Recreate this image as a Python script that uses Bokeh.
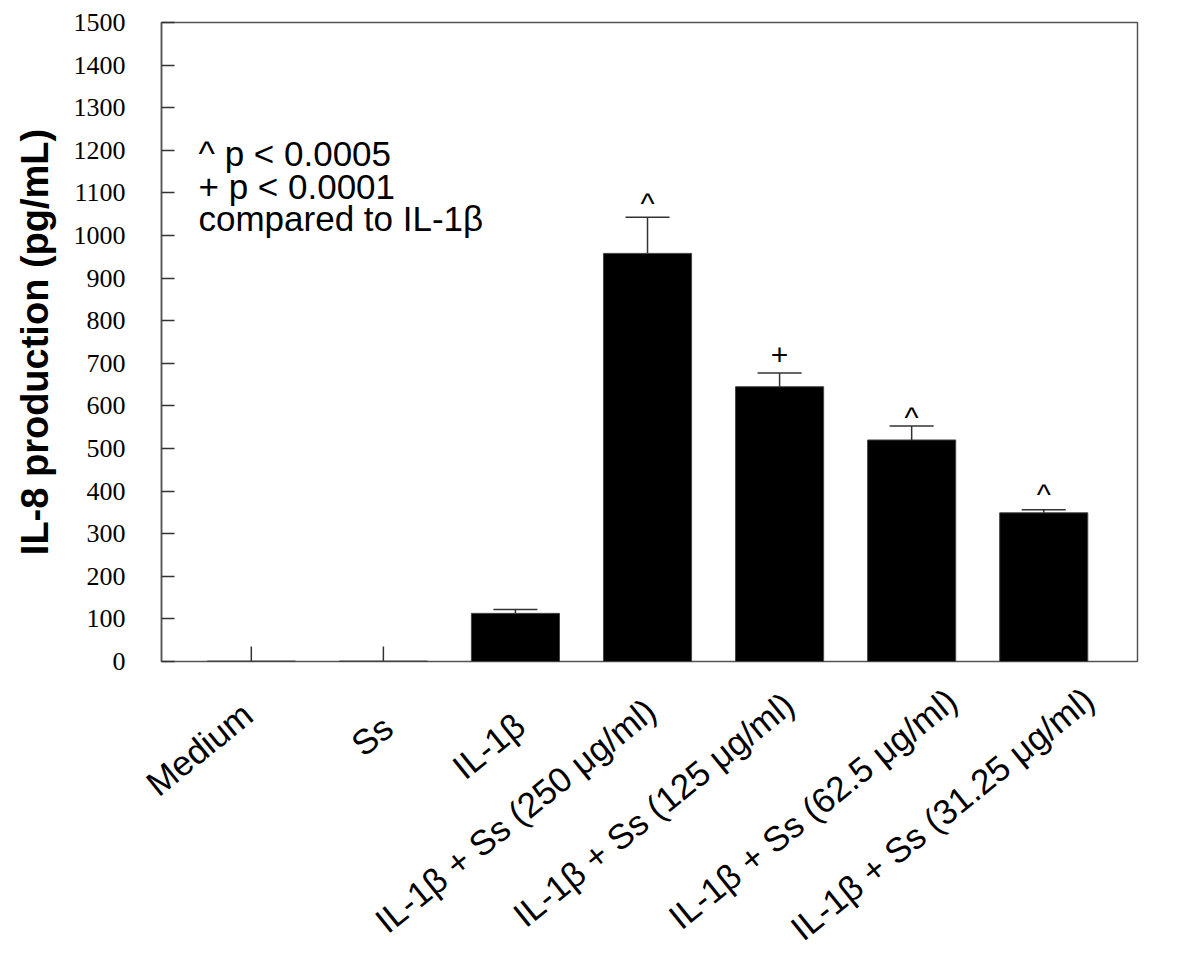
import numpy as np
from bokeh.plotting import figure
from bokeh.layouts import column
from bokeh.models import Range1d, FixedTicker, ColumnDataSource, Label
from bokeh.core.properties import value
from bokeh.embed import file_html
from bokeh.resources import INLINE

# ---------------- data ----------------
categories = ["Medium", "Ss", "IL-1β", "IL-1β + Ss (250 μg/ml)", "IL-1β + Ss (125 μg/ml)",
              "IL-1β + Ss (62.5 μg/ml)", "IL-1β + Ss (31.25 μg/ml)"]
means = [1, 1, 113, 958, 645, 520, 349]
errors = [34, 34, 9, 85, 32, 33, 7]
capped = [False, False, True, True, True, True, True]
sig_marks = ["", "", "", "^", "+", "^", "^"]
sig_y = [0, 0, 0, 1074, 720, 572, 392]
y_ticks = list(range(0, 1501, 100))
notes = ["^ p < 0.0005", "+ p < 0.0001", "compared to IL-1β"]
notes_y = [1193, 1116, 1041]

# ---------------- layout (pixels) ----------------
W = 1184
LEFT, RIGHT, TOP, BOTTOM = 161, 47, 22, 17
FRAME_H = 639
H_MAIN = TOP + FRAME_H + BOTTOM
H_LAB = 944 - H_MAIN
X0, X1 = -0.68, 6.71
PX_PER_X = (W - LEFT - RIGHT) / (X1 - X0)
label_dx = [-16, -8, -8, -9, -3, 28, 33]   # label anchor offsets from tick, px
label_dy = [33, 46, 44, 29, 23, 19, 18]    # label anchor below axis, px

x = np.arange(len(categories))
means_a = np.array(means, dtype=float)
errs_a = np.array(errors, dtype=float)

p = figure(width=W, height=H_MAIN, output_backend="svg", toolbar_location=None,
           x_range=Range1d(X0, X1), y_range=Range1d(0, 1500), x_axis_location=None,
           min_border_left=LEFT, min_border_right=RIGHT, min_border_top=TOP, min_border_bottom=BOTTOM)
p.grid.visible = False
p.outline_line_color = "#555555"
p.outline_line_width = 1.5
p.background_fill_color = "white"
p.border_fill_color = "white"

bar_w = 0.667
p.vbar(x=x, top=means_a, width=bar_w, bottom=0, fill_color="black", line_color="#444444", line_width=1)

# error bars
p.segment(x0=x, y0=means_a, x1=x, y1=means_a + errs_a, line_color="#333333", line_width=1.5)
cap_mask = np.array(capped)
cap_half = bar_w / 4
p.segment(x0=x[cap_mask] - cap_half, y0=(means_a + errs_a)[cap_mask],
          x1=x[cap_mask] + cap_half, y1=(means_a + errs_a)[cap_mask],
          line_color="#333333", line_width=1.5)

# significance marks
sig_idx = [i for i, s in enumerate(sig_marks) if s]
src = ColumnDataSource(dict(x=[int(x[i]) for i in sig_idx], y=[sig_y[i] for i in sig_idx],
                            t=[sig_marks[i] for i in sig_idx]))
p.text(x="x", y="y", text="t", source=src, text_align="center", text_baseline="alphabetic",
       text_font=value("Liberation Sans"), text_font_size="30px", text_color="black")

for t, yy in zip(notes, notes_y):
    p.add_layout(Label(x=-0.40, y=yy, text=t, text_font="Liberation Sans", text_font_size="35px",
                       text_color="black", text_baseline="alphabetic", text_align="left"))

# y axis
ya = p.yaxis[0]
ya.ticker = FixedTicker(ticks=y_ticks)
ya.minor_tick_line_color = None
ya.major_tick_in = 13
ya.major_tick_out = 0
ya.major_tick_line_color = "#333333"
ya.major_tick_line_width = 1.5
ya.axis_line_color = "#555555"
ya.axis_line_width = 1.5
ya.major_label_text_font = "Liberation Serif"
ya.major_label_text_font_size = "26px"
ya.major_label_text_color = "black"
ya.major_label_standoff = 36
ya.axis_label = "IL-8 production (pg/mL)"
ya.axis_label_text_font = "Liberation Sans"
ya.axis_label_text_font_style = "bold"
ya.axis_label_text_font_size = "38px"
ya.axis_label_text_color = "black"
ya.axis_label_standoff = 15

# ---------------- category label strip ----------------
q = figure(width=W, height=H_LAB, output_backend="svg", toolbar_location=None,
           x_range=Range1d(X0 - LEFT / PX_PER_X, X1 + RIGHT / PX_PER_X), y_range=Range1d(-H_LAB, 0),
           x_axis_location=None, y_axis_location=None,
           min_border_left=0, min_border_right=0, min_border_top=0, min_border_bottom=0)
unaligned = False
try:
    q.frame_align = False
    p.frame_align = False
    unaligned = True
except Exception:
    unaligned = False
if not unaligned:
    q.x_range = Range1d(X0, X1)
q.grid.visible = False
q.outline_line_color = None
q.background_fill_color = "white"
q.border_fill_color = "white"
shift = H_MAIN - (TOP + FRAME_H)
lab_src = ColumnDataSource(dict(
    x=[x[i] + label_dx[i] / PX_PER_X for i in range(len(categories))],
    y=[-(label_dy[i] - shift) for i in range(len(categories))],
    t=categories))
q.text(x="x", y="y", text="t", source=lab_src, angle=np.deg2rad(39), text_align="right",
       text_baseline="top", text_font=value("Liberation Sans"), text_font_size="35px",
       text_color="black")

layout = column(p, q, spacing=0)
open("out.html", "w").write(file_html(layout, INLINE))
